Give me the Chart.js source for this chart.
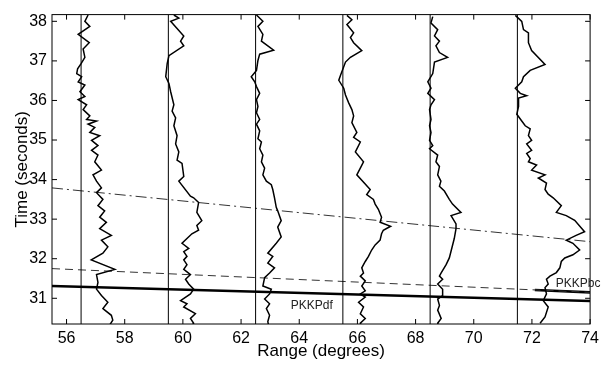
<!DOCTYPE html>
<html>
<head>
<meta charset="utf-8">
<script src="https://cdn.jsdelivr.net/npm/chart.js@4.4.0/dist/chart.umd.min.js"></script>
<style>
  html, body { margin: 0; padding: 0; background: #fff; }
  #wrap { width: 604px; height: 366px; }
</style>
</head>
<body>
<div id="wrap"><canvas id="chart" width="604" height="366"></canvas></div>
<script>
// axis limits and ticks
const rangeMin = 55.5, rangeMax = 74;
const timeMin = 30.35, timeMax = 38.17;
const xTicks = [56, 58, 60, 62, 64, 66, 68, 70, 72, 74];
const yTicks = [31, 32, 33, 34, 35, 36, 37, 38];

// station ranges (thin vertical reference lines)
const stationRanges = [56.5, 59.5, 62.5, 65.5, 68.5, 71.5];

// seismogram traces, [range, time] pairs
const trace1 = [[56.74,38.16],[56.63,38.00],[56.80,37.87],[56.40,37.67],[56.78,37.46],[56.57,37.30],[56.63,37.09],[56.50,36.93],[56.38,36.80],[56.35,36.68],[56.52,36.60],[56.40,36.47],[56.63,36.39],[56.46,36.22],[56.63,36.10],[56.40,36.02],[56.69,35.89],[56.57,35.77],[56.80,35.61],[56.69,35.52],[57.03,35.48],[56.74,35.40],[56.97,35.32],[56.80,35.19],[57.14,35.11],[56.86,34.99],[57.08,34.86],[56.86,34.74],[57.08,34.62],[56.97,34.45],[57.20,34.24],[56.91,34.12],[57.03,33.96],[57.20,33.79],[57.03,33.67],[57.25,33.50],[57.08,33.34],[57.31,33.21],[57.14,33.05],[57.37,32.92],[57.14,32.76],[57.54,32.59],[57.20,32.47],[57.42,32.30],[57.25,32.14],[56.85,31.97],[57.66,31.73],[57.03,31.60],[57.08,31.40],[57.03,31.23],[57.20,31.07],[57.42,30.90],[57.25,30.74],[57.54,30.57],[57.59,30.45],[57.48,30.32]];
const trace2 = [[59.69,38.16],[59.86,38.08],[59.58,38.00],[60.03,37.63],[59.92,37.50],[60.03,37.38],[59.52,37.13],[59.46,36.93],[59.41,36.60],[59.52,36.43],[59.58,36.22],[59.69,35.89],[59.63,35.73],[59.75,35.56],[59.69,35.36],[59.80,35.11],[59.75,34.90],[59.86,34.70],[59.80,34.49],[59.97,34.41],[60.03,34.08],[59.86,33.96],[60.26,33.58],[60.37,33.54],[60.54,33.42],[60.48,33.17],[60.65,32.96],[60.48,32.84],[60.54,32.72],[60.31,32.63],[59.97,32.39],[60.20,32.26],[60.03,32.18],[60.14,32.06],[60.03,31.97],[60.14,31.85],[60.03,31.73],[60.26,31.60],[60.09,31.48],[60.20,31.36],[60.37,31.23],[60.26,31.11],[59.92,30.94],[60.14,30.86],[60.03,30.78],[60.43,30.61],[60.26,30.49],[60.37,30.37],[60.30,30.30]];
const trace3 = [[62.53,38.16],[62.75,38.00],[62.58,37.87],[62.75,37.67],[62.70,37.50],[63.12,37.27],[62.64,37.17],[62.58,37.01],[62.53,36.76],[62.35,36.60],[62.47,36.47],[62.53,36.35],[62.64,36.18],[62.53,36.02],[62.58,35.85],[62.53,35.69],[62.64,35.52],[62.53,35.40],[62.64,35.23],[62.58,35.03],[62.70,34.95],[62.64,34.78],[62.75,34.62],[62.70,34.45],[62.81,34.29],[62.75,34.12],[62.87,33.96],[63.04,33.87],[63.09,33.75],[63.15,33.54],[63.21,33.30],[63.26,33.21],[63.38,32.96],[63.26,32.80],[63.38,32.55],[63.21,32.39],[62.92,32.14],[63.09,32.06],[62.92,31.89],[63.15,31.77],[62.98,31.64],[62.81,31.52],[62.75,31.31],[63.04,31.23],[62.98,31.11],[62.81,30.98],[62.98,30.86],[62.87,30.74],[62.98,30.57],[62.92,30.41],[62.95,30.30]];
const trace4 = [[65.64,38.15],[65.81,38.04],[65.64,37.92],[65.87,37.71],[65.76,37.59],[65.87,37.46],[66.15,37.26],[65.76,37.09],[65.59,36.97],[65.42,36.64],[65.36,36.51],[65.53,36.31],[65.59,36.14],[65.70,35.94],[65.81,35.77],[65.87,35.61],[65.81,35.44],[65.98,35.19],[65.87,35.07],[66.10,34.95],[65.93,34.70],[66.21,34.45],[66.10,34.29],[65.98,34.12],[66.44,33.75],[66.32,33.62],[66.55,33.50],[66.61,33.38],[66.72,33.25],[66.83,33.05],[66.78,32.92],[67.14,32.82],[66.89,32.72],[66.83,32.63],[66.78,32.47],[66.61,32.35],[66.49,32.22],[66.38,32.06],[66.27,31.93],[66.15,31.77],[66.21,31.64],[66.10,31.56],[66.27,31.44],[66.15,31.31],[66.27,31.19],[66.10,31.11],[66.27,31.03],[66.04,30.90],[66.21,30.78],[66.10,30.61],[66.27,30.49],[66.10,30.37],[66.15,30.30]];
const trace5 = [[68.59,38.12],[68.53,37.96],[68.76,37.79],[68.65,37.63],[68.82,37.50],[68.70,37.38],[68.82,37.21],[69.10,37.09],[68.65,36.97],[68.59,36.68],[68.42,36.47],[68.53,36.31],[68.42,36.18],[68.65,36.02],[68.53,35.89],[68.48,35.77],[68.53,35.52],[68.48,35.36],[68.53,35.19],[68.48,34.99],[68.59,34.86],[68.48,34.78],[68.76,34.62],[68.70,34.45],[68.82,34.33],[68.76,34.12],[68.87,33.96],[68.82,33.83],[68.99,33.71],[69.16,33.50],[69.27,33.38],[69.56,33.17],[69.22,33.09],[69.39,32.88],[69.39,32.76],[69.33,32.51],[69.16,32.02],[69.05,31.85],[68.88,31.64],[68.82,31.56],[68.93,31.48],[68.76,31.36],[68.93,31.23],[68.93,31.07],[68.76,30.98],[68.82,30.82],[68.76,30.70],[68.88,30.49],[68.76,30.37],[68.80,30.30]];
const trace6 = [[71.43,38.15],[71.65,38.00],[71.71,37.79],[71.88,37.71],[71.88,37.46],[71.99,37.26],[72.45,36.91],[71.94,36.76],[71.71,36.60],[71.65,36.47],[71.43,36.31],[71.60,36.18],[71.82,36.12],[71.54,36.06],[71.54,35.85],[71.48,35.65],[71.65,35.48],[71.77,35.36],[71.94,35.28],[71.88,35.11],[71.99,34.99],[71.82,34.90],[71.99,34.74],[71.82,34.66],[71.94,34.53],[71.88,34.45],[72.16,34.37],[71.99,34.24],[72.45,34.12],[72.22,34.04],[72.50,33.91],[72.45,33.75],[72.56,33.63],[72.73,33.54],[73.01,33.34],[72.84,33.17],[73.18,33.09],[73.47,32.97],[73.81,32.68],[73.52,32.59],[73.18,32.47],[73.41,32.39],[73.64,32.22],[73.41,32.10],[73.13,32.02],[73.01,31.93],[72.96,31.77],[72.84,31.65],[72.62,31.56],[72.50,31.48],[72.56,31.36],[72.45,31.27],[72.50,31.11],[72.39,30.94],[72.56,30.78],[72.45,30.53],[72.28,30.37]];
const traces = [trace1, trace2, trace3, trace4, trace5, trace6];

// predicted / picked phase times, [range, time] end points
const pkkpdfLine = [[55.5, 31.31], [74, 30.93]];
const pkkpbcPredicted = [[55.5, 31.75], [74, 31.15]];
const pkkpbcPicked = [[72.1, 31.21], [74, 31.15]];
const pkkpabLine = [[55.5, 33.79], [74, 32.43]];

// phase labels
const phaseLabels = [
  { text: 'PKKPdf', x: 63.71, y: 30.82 },
  { text: 'PKKPbc', x: 72.82, y: 31.38 }
];

const FONT = "'Liberation Sans', Arial, Helvetica, sans-serif";
const toXY = arr => arr.map(([x, y]) => ({ x, y }));

function lineSet(points, opts) {
  return Object.assign({
    data: toXY(points),
    showLine: true,
    pointRadius: 0,
    borderColor: '#000',
    borderWidth: 1,
    fill: false,
    tension: 0
  }, opts);
}

const datasets = [];
stationRanges.forEach(r => {
  datasets.push(lineSet([[r, timeMin], [r, timeMax]], { borderWidth: 1 }));
});
traces.forEach(t => datasets.push(lineSet(t, { borderWidth: 1.5 })));
datasets.push(lineSet(pkkpabLine, { borderColor: '#333', borderDash: [11, 4, 2, 4] }));
datasets.push(lineSet(pkkpbcPredicted, { borderColor: '#333', borderDash: [8, 5] }));
datasets.push(lineSet(pkkpbcPicked, { borderWidth: 2.6 }));
datasets.push(lineSet(pkkpdfLine, { borderWidth: 2.6 }));

// box frame, inward ticks and phase names
const framePlugin = {
  id: 'frame',
  afterDraw(chart) {
    const { ctx, chartArea: a, scales } = chart;
    const tl = 5;
    ctx.save();
    ctx.strokeStyle = '#000';
    ctx.lineWidth = 1;
    ctx.strokeRect(a.left, a.top, a.right - a.left, a.bottom - a.top);
    ctx.beginPath();
    xTicks.forEach(v => {
      const px = scales.x.getPixelForValue(v);
      ctx.moveTo(px, a.bottom); ctx.lineTo(px, a.bottom - tl);
      ctx.moveTo(px, a.top); ctx.lineTo(px, a.top + tl);
    });
    yTicks.forEach(v => {
      const py = scales.y.getPixelForValue(v);
      ctx.moveTo(a.left, py); ctx.lineTo(a.left + tl, py);
      ctx.moveTo(a.right, py); ctx.lineTo(a.right - tl, py);
    });
    ctx.stroke();

    ctx.fillStyle = '#222';
    ctx.font = '12px ' + FONT;
    ctx.textAlign = 'left';
    ctx.textBaseline = 'middle';
    phaseLabels.forEach(l => {
      ctx.fillText(l.text, scales.x.getPixelForValue(l.x), scales.y.getPixelForValue(l.y));
    });
    ctx.restore();
  }
};

new Chart(document.getElementById('chart'), {
  type: 'scatter',
  data: { datasets },
  options: {
    responsive: false,
    animation: false,
    devicePixelRatio: 1,
    layout: { padding: { left: 0, top: 8, right: 8, bottom: 0 } },
    plugins: { legend: { display: false }, tooltip: { enabled: false } },
    scales: {
      x: {
        type: 'linear',
        min: rangeMin,
        max: rangeMax,
        afterBuildTicks: s => { s.ticks = xTicks.map(v => ({ value: v })); },
        afterFit: s => { s.height = 42; },
        grid: { display: false, drawTicks: false },
        border: { display: false },
        ticks: { color: '#000', font: { family: FONT, size: 16 }, padding: 5, maxRotation: 0, autoSkip: false },
        title: { display: true, text: 'Range (degrees)', color: '#000', font: { family: FONT, size: 17 }, padding: { top: 0, bottom: 4 } }
      },
      y: {
        type: 'linear',
        min: timeMin,
        max: timeMax,
        afterBuildTicks: s => { s.ticks = yTicks.map(v => ({ value: v })); },
        afterFit: s => { s.width = 52; },
        grid: { display: false, drawTicks: false },
        border: { display: false },
        ticks: { color: '#000', font: { family: FONT, size: 16 }, padding: 5, autoSkip: false },
        title: { display: true, text: 'Time (seconds)', color: '#000', font: { family: FONT, size: 17 }, padding: { top: 12, bottom: 0 } }
      }
    }
  },
  plugins: [framePlugin]
});
</script>
</body>
</html>
